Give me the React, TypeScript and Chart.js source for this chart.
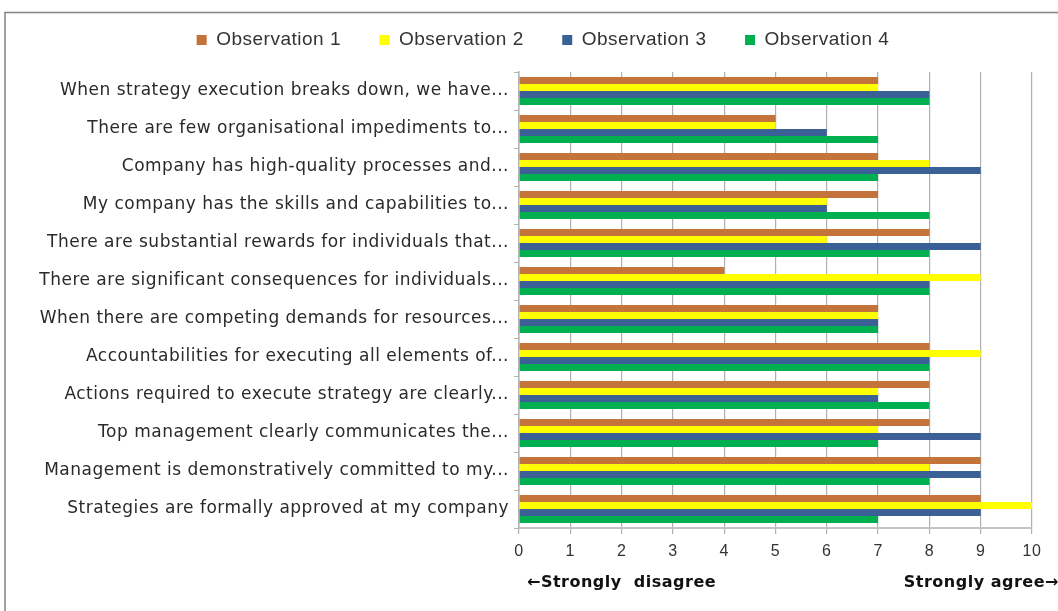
import React, { useEffect, useRef } from "react";
import { Chart, registerables } from "chart.js";

Chart.register(...registerables);

const categories = [
  "When strategy execution breaks down, we have...",
  "There are few organisational impediments to...",
  "Company has high-quality processes and...",
  "My company has the skills and capabilities to...",
  "There are substantial rewards for individuals that...",
  "There are significant consequences for individuals...",
  "When there are competing demands for resources...",
  "Accountabilities for executing all elements of...",
  "Actions required to execute strategy are clearly...",
  "Top management clearly communicates the...",
  "Management is demonstratively committed to my...",
  "Strategies are formally approved at my company",
];

const seriesNames = ["Observation 1", "Observation 2", "Observation 3", "Observation 4"];
const obs1 = [7, 5, 7, 7, 8, 4, 7, 8, 8, 8, 9, 9];
const obs2 = [7, 5, 8, 6, 6, 9, 7, 9, 7, 7, 8, 10];
const obs3 = [8, 6, 9, 6, 9, 8, 7, 8, 7, 9, 9, 9];
const obs4 = [8, 7, 7, 8, 8, 8, 7, 8, 8, 7, 8, 7];
const seriesColors = ["#C4733A", "#FFFF00", "#3B6096", "#00B050"];
const xTicks = [0, 1, 2, 3, 4, 5, 6, 7, 8, 9, 10];
const leftNote = "\u2190Strongly  disagree";
const rightNote = "Strongly agree\u2192";

const setSpacing = (chart: any) => {
  try {
    (chart.ctx as any).letterSpacing = "0.5px";
  } catch (e) {}
};

const framePlugin = {
  id: "frame",
  beforeLayout(chart: any) {
    setSpacing(chart);
  },
  afterLayout(chart: any) {
    const lg = chart.legend;
    if (lg) {
      lg.left += 27;
      lg.right += 27;
    }
  },
  beforeDraw(chart: any) {
    const ctx = chart.ctx;
    setSpacing(chart);
    ctx.save();
    ctx.fillStyle = "#ffffff";
    ctx.fillRect(0, 0, chart.width, chart.height);
    ctx.strokeStyle = "#848484";
    ctx.lineWidth = 1.5;
    ctx.strokeRect(5, 12.5, 1200, 800);
    ctx.restore();
  },
  afterDraw(chart: any) {
    const ctx = chart.ctx;
    const xs = chart.scales.x;
    ctx.save();
    ctx.fillStyle = "#111111";
    ctx.font = "bold 16px 'DejaVu Sans'";
    ctx.textBaseline = "middle";
    ctx.textAlign = "left";
    ctx.fillText(leftNote, xs.getPixelForValue(0) + 8, 583);
    ctx.fillText(rightNote, xs.getPixelForValue(7.5), 583);
    ctx.restore();
  },
};

export default function App() {
  const ref = useRef<HTMLCanvasElement | null>(null);
  useEffect(() => {
    if (!ref.current) return;
    const data = [obs1, obs2, obs3, obs4];
    const chart = new Chart(ref.current, {
      type: "bar",
      data: {
        labels: categories,
        datasets: seriesNames.map((name, i) => ({
          label: name,
          data: data[i],
          backgroundColor: seriesColors[i],
          borderWidth: 0,
          barPercentage: 1,
          categoryPercentage: 0.74,
        })),
      },
      options: {
        indexAxis: "y",
        responsive: false,
        animation: false,
        devicePixelRatio: 1,
        layout: { padding: { left: 0, right: 26, top: -8, bottom: 0 } },
        plugins: {
          legend: {
            position: "top",
            labels: {
              boxWidth: 10,
              boxHeight: 10,
              padding: 38.5,
              color: "#333333",
              font: { family: "'Liberation Sans'", size: 19 },
            },
          },
          subtitle: {
            display: true,
            text: " ",
            weight: 500,
            position: "top",
            font: { size: 10, lineHeight: 1 },
            padding: { top: 1.25, bottom: 1.25 },
          },
          tooltip: { enabled: false },
        },
        scales: {
          x: {
            min: 0,
            max: 10,
            afterFit(scale: any) {
              scale.height = 83;
            },
            afterBuildTicks(scale: any) {
              scale.ticks = xTicks.map((v) => ({ value: v }));
            },
            grid: {
              color: "#b0b0b0",
              lineWidth: 1.2,
              tickLength: 6,
            },
            border: { display: true, color: "#c4c4c4", width: 2 },
            ticks: {
              padding: 8,
              color: "#333333",
              font: { family: "'Liberation Sans'", size: 16 },
            },
          },
          y: {
            afterFit(scale: any) {
              scale.width = 519;
            },
            grid: {
              drawOnChartArea: false,
              drawTicks: true,
              tickLength: 5,
              color: "#b4b4b4",
            },
            border: { display: true, color: "#b4b4b4", width: 1.5 },
            ticks: {
              padding: 5,
              color: "#2a2a2a",
              font: { family: "'DejaVu Sans'", size: 17 },
            },
          },
        },
      },
      plugins: [framePlugin],
    });
    return () => chart.destroy();
  }, []);
  return (
    <div style={{ position: "fixed", left: 0, top: 0, width: 1058, height: 611, background: "#fff" }}>
      <canvas ref={ref} width={1058} height={611} />
    </div>
  );
}
